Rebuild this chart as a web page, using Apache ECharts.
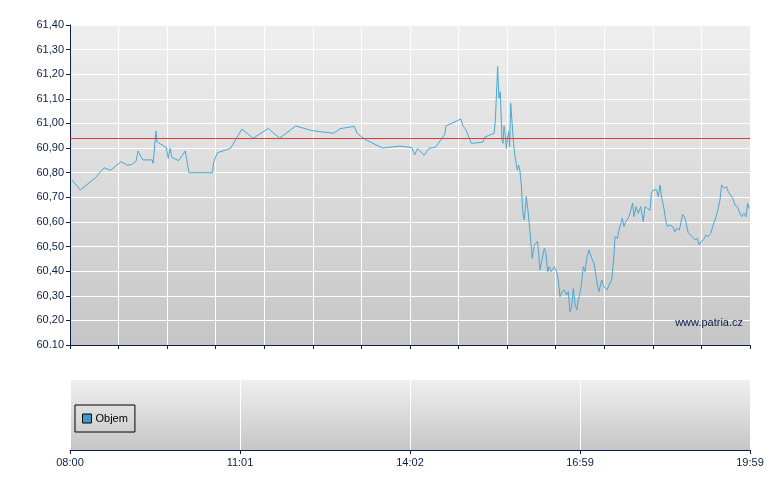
<!DOCTYPE html>
<html>
<head>
<meta charset="utf-8">
<script src="https://cdn.jsdelivr.net/npm/echarts@6/dist/echarts.min.js"></script>
<style>
html,body{margin:0;padding:0;background:#fff;}
#chart{width:780px;height:490px;}
</style>
</head>
<body>
<div id="chart"></div>
<script>
// ---- data ----
const minutesFrom0800 = [
  2, 11, 27, 36, 43, 54, 61, 66, 70, 72, 77, 87, 88, 91, 92, 102, 104, 106, 108, 115,
  122, 126, 151, 152, 156, 170, 182, 194, 210, 222, 239, 256, 279, 286, 301, 304, 312, 331, 349, 362,
  365, 368, 375, 380, 387, 397, 398, 414, 416, 419, 425, 437, 439, 449, 450.3, 452.8, 454.2, 455.6, 457.4, 458.5,
  459.5, 460.9, 462, 463, 464.5, 465.5, 466.6, 468, 469.4, 470.9, 472.5, 473.6, 475.1, 476.5, 477.9, 479.3, 481, 483.1, 484.9, 487.1,
  489.4, 491.6, 493.4, 494.8, 495.8, 497.6, 500.1, 502.2, 503.7, 505.8, 507.5, 509.3, 512.8, 515.3, 517, 518.8, 521.2, 523.4, 525.9, 527.6,
  529.4, 531.2, 532.9, 534.7, 536.5, 538.2, 541, 543.5, 545.3, 547.1, 549.5, 552.4, 554.8, 558.4, 560.1, 563, 565.4, 568.2, 573.6, 576,
  577, 579.5, 581.3, 583.1, 584.8, 586.6, 588.4, 590.1, 591.9, 593.7, 595.8, 597.2, 599.3, 601.7, 604.3, 607, 608.8, 611.3, 614.1, 615.5,
  617.6, 621.2, 622.9, 624.7, 626.5, 628.9, 631, 632.4, 635.3, 638.1, 640.6, 642.4, 645.2, 648.7, 651.2, 653, 654.7, 657.2, 659.3, 661.8,
  664.2, 666.3, 668.1, 670.6, 673.4, 675.8, 678.4, 681.1, 684, 686.4, 688.2, 690, 692.5, 695.3, 697, 698.8, 701.6, 704.1, 706.5, 709.4,
  711.1, 713.6, 715.8, 717.5, 719
];
const prices = [
  60.77, 60.73, 60.78, 60.82, 60.81, 60.845, 60.83, 60.835, 60.847, 60.888, 60.852, 60.852, 60.838, 60.969, 60.926, 60.902, 60.858, 60.899, 60.862, 60.849,
  60.888, 60.80, 60.80, 60.841, 60.881, 60.899, 60.977, 60.94, 60.98, 60.94, 60.99, 60.971, 60.96, 60.979, 60.988, 60.96, 60.936, 60.90, 60.908, 60.902,
  60.872, 60.899, 60.871, 60.899, 60.903, 60.957, 60.99, 61.018, 60.99, 60.976, 60.919, 60.924, 60.944, 60.96, 61.007, 61.231, 61.102, 61.129, 60.933, 60.919,
  60.991, 60.953, 60.899, 60.933, 60.967, 60.906, 61.082, 61.007, 60.933, 60.872, 60.872, 60.811, 60.831, 60.804, 60.75, 60.642, 60.608, 60.702, 60.648, 60.56,
  60.452, 60.506, 60.499, 60.52, 60.493, 60.405, 60.452, 60.493, 60.479, 60.398, 60.418, 60.398, 60.418, 60.398, 60.364, 60.296, 60.317, 60.323, 60.303, 60.317,
  60.235, 60.256, 60.33, 60.269, 60.242, 60.283, 60.33, 60.418, 60.398, 60.452, 60.486, 60.452, 60.432, 60.344, 60.317, 60.364, 60.337, 60.323, 60.364, 60.466,
  60.54, 60.533, 60.567, 60.56, 60.615, 60.581, 60.601, 60.594, 60.621, 60.615, 60.676, 60.621, 60.662, 60.635, 60.662, 60.601, 60.662, 60.655, 60.648, 60.716,
  60.73, 60.73, 60.702, 60.75, 60.696, 60.655, 60.601, 60.581, 60.588, 60.581, 60.56, 60.574, 60.567, 60.631, 60.615, 60.615, 60.554, 60.547, 60.554, 60.527,
  60.533, 60.506, 60.52, 60.527, 60.547, 60.54, 60.554, 60.588, 60.621, 60.655, 60.689, 60.75, 60.737, 60.743, 60.723, 60.73, 60.696, 60.669, 60.662, 60.635,
  60.621, 60.635, 60.621, 60.676, 60.655
];
const yTickLabels = ['60.10','60,20','60,30','60,40','60,50','60,60','60,70','60,80','60,90','61,00','61,10','61,20','61,30','61,40'];
const timeLabels = ['08:00','11:01','14:02','16:59','19:59'];
const referenceLevel = 60.94;
const volumeName = 'Objem';
const volumeValues = [];
const watermark = 'www.patria.cz';

// ---- chart ----
const yMin = 60.10, yMax = 61.40, yStep = 0.10;
const xMin = 0, xMax = 720;
const navy = '#0b1f4d';
const font = 'Liberation Sans, Arial, sans-serif';
const bg = () => new echarts.graphic.LinearGradient(0, 0, 0, 1, [
  { offset: 0, color: '#efefef' }, { offset: 1, color: '#c6c6c6' }
]);

const chart = echarts.init(document.getElementById('chart'), null, { renderer: 'canvas' });
chart.setOption({
  animation: false,
  backgroundColor: '#ffffff',
  textStyle: { fontFamily: font },
  grid: [
    { left: 70, right: 30, top: 25, height: 320, show: true, backgroundColor: bg(), borderWidth: 0 },
    { left: 70, right: 30, top: 380, height: 70, show: true, backgroundColor: bg(), borderWidth: 0 }
  ],
  legend: {
    data: [volumeName],
    left: 75, top: 405,
    orient: 'horizontal',
    padding: [8, 7, 8, 7],
    borderColor: '#000', borderWidth: 1, borderRadius: 0,
    itemWidth: 9, itemHeight: 9, itemGap: 4,
    icon: 'rect',
    itemStyle: { borderColor: '#000', borderWidth: 1 },
    textStyle: { color: '#000', fontSize: 11, fontFamily: font, padding: [0, 0, 0, -1] },
    selectedMode: false
  },
  xAxis: [
    {
      type: 'value', gridIndex: 0, min: xMin, max: xMax, interval: (xMax - xMin) / 14,
      axisLine: { show: true, onZero: false, lineStyle: { color: navy, width: 1 } },
      axisTick: { show: true, length: 4, lineStyle: { color: navy } },
      axisLabel: { show: false },
      splitLine: { show: true, lineStyle: { color: '#ffffff', width: 1 } }
    },
    {
      type: 'value', gridIndex: 1, min: xMin, max: xMax, interval: 180,
      axisLine: { show: true, onZero: false, lineStyle: { color: navy, width: 1 } },
      axisTick: { show: true, length: 4, lineStyle: { color: navy } },
      axisLabel: {
        show: true, color: navy, fontSize: 11, fontFamily: font, margin: 7,
        formatter: (v) => timeLabels[Math.round(v / 180)]
      },
      splitLine: { show: true, lineStyle: { color: '#ffffff', width: 1 } }
    }
  ],
  yAxis: [
    {
      type: 'value', gridIndex: 0, min: yMin, max: yMax, interval: yStep,
      axisLine: { show: true, lineStyle: { color: navy, width: 1 } },
      axisTick: { show: true, length: 4, lineStyle: { color: navy } },
      axisLabel: {
        color: navy, fontSize: 11, fontFamily: font, margin: 6,
        formatter: (v) => yTickLabels[Math.round((v - yMin) / yStep)]
      },
      splitLine: { show: true, lineStyle: { color: '#ffffff', width: 1 } }
    },
    {
      type: 'value', gridIndex: 1, min: 0, max: 1, show: false,
      splitLine: { show: false }
    }
  ],
  series: [
    {
      type: 'line', name: 'Cena', xAxisIndex: 0, yAxisIndex: 0,
      data: minutesFrom0800.map((m, i) => [m, prices[i]]),
      showSymbol: false, symbol: 'none',
      lineStyle: { color: '#4aa7d6', width: 1 },
      itemStyle: { color: '#4aa7d6' },
      markLine: {
        silent: true, symbol: 'none', label: { show: false },
        lineStyle: { color: '#e03a3a', width: 1, type: 'solid' },
        data: [{ yAxis: referenceLevel }]
      },
      z: 3
    },
    {
      type: 'bar', name: volumeName, xAxisIndex: 1, yAxisIndex: 1,
      data: volumeValues,
      itemStyle: { color: '#3c9ccf' }
    }
  ],
  graphic: [
    {
      type: 'text', right: 37, top: 317, z: 10,
      style: { text: watermark, fill: navy, font: '11px ' + font }
    }
  ]
});
</script>
</body>
</html>
